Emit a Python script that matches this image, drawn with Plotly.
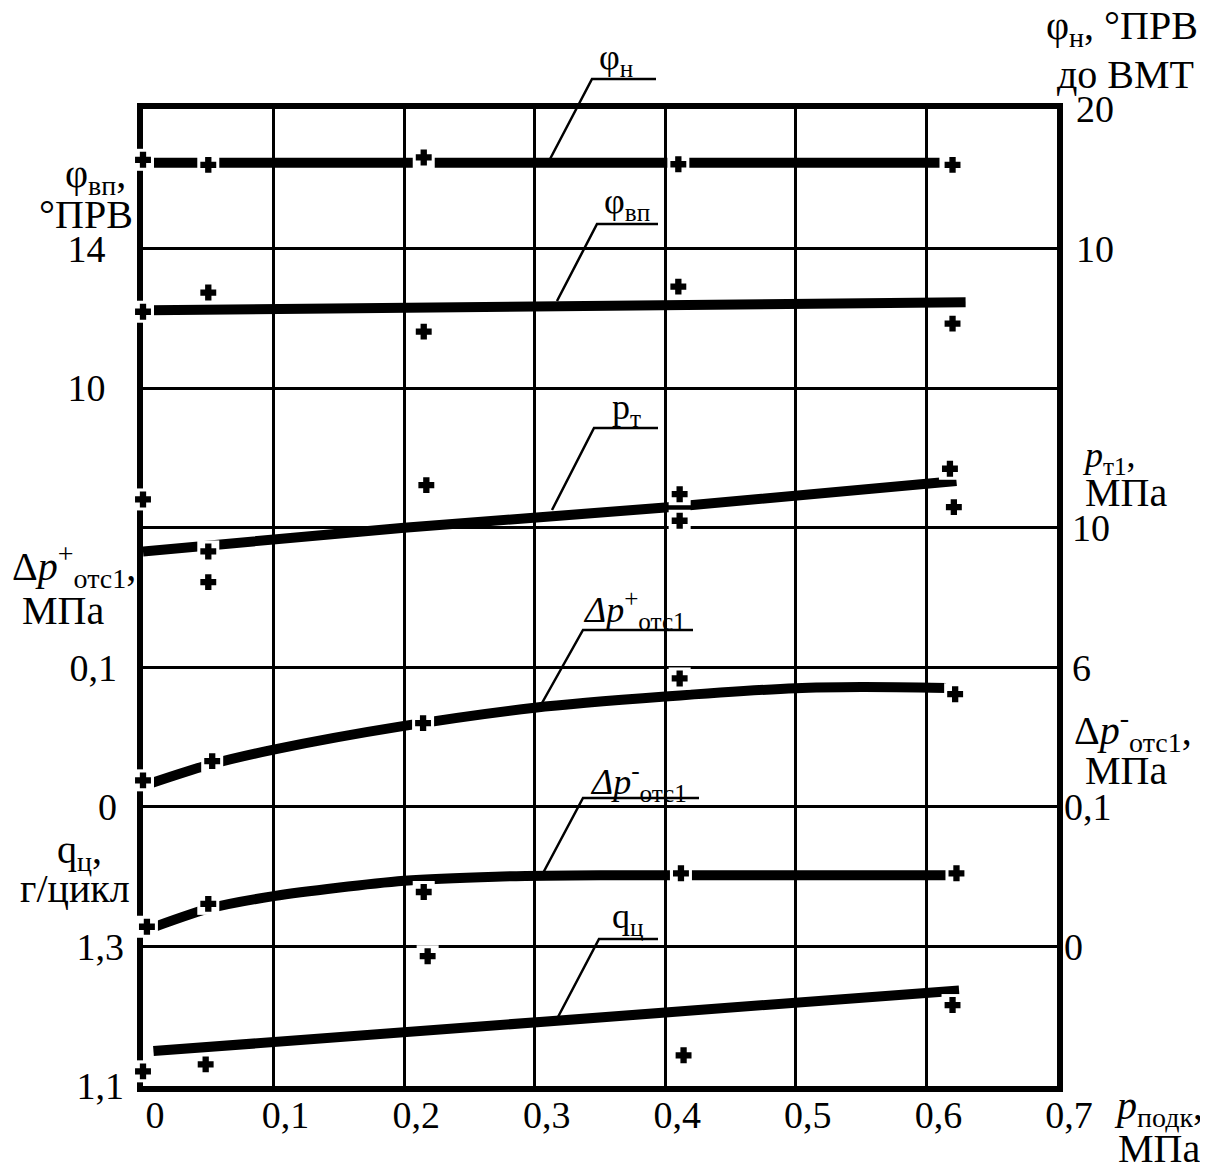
import plotly.graph_objects as go

# ---------------- data ----------------
x_tick_vals = [0, 0.1, 0.2, 0.3, 0.4, 0.5, 0.6, 0.7]
x_tick_text = ["0", "0,1", "0,2", "0,3", "0,4", "0,5", "0,6", "0,7"]

# phi_n (right axis, deg CA before TDC)
phi_n_fit_x = [0.0, 0.61]
phi_n_fit_y = [16.15, 16.15]
phi_n_pts_x = [0.0, 0.05, 0.215, 0.41, 0.62]
phi_n_pts_y = [16.36, 16.0, 16.53, 16.04, 16.0]

# phi_vp (left axis, deg CA)
phi_vp_fit_x = [0.005, 0.63]
phi_vp_fit_y = [12.23, 12.46]
phi_vp_pts_x = [0.0, 0.05, 0.215, 0.41, 0.62]
phi_vp_pts_y = [12.19, 12.74, 11.62, 12.91, 11.85]

# p_t1 (right axis, MPa)
pt_fit_x = [0.0, 0.2, 0.4, 0.623]
pt_fit_y = [9.32, 10.0, 10.58, 11.34]
pt_pts_x = [0.0, 0.05, 0.05, 0.217, 0.411, 0.411, 0.618, 0.621]
pt_pts_y = [10.81, 9.32, 8.44, 11.22, 10.96, 10.2, 11.69, 10.59]

# dp+ (left axis, MPa)
dpp_fit_x = [0.0, 0.05, 0.1, 0.2, 0.3, 0.4, 0.5, 0.55, 0.615]
dpp_fit_y = [0.015, 0.030, 0.041, 0.058, 0.071, 0.079, 0.085, 0.0858, 0.0852]
dpp_pts_x = [0.0, 0.053, 0.2145, 0.411, 0.622]
dpp_pts_y = [0.019, 0.0328, 0.060, 0.092, 0.0807]

# dp- (right axis, MPa)
dpm_fit_x = [0.0, 0.05, 0.1, 0.2, 0.27, 0.35, 0.45, 0.615]
dpm_fit_y = [0.011, 0.027, 0.036, 0.047, 0.050, 0.051, 0.051, 0.051]
dpm_pts_x = [0.003, 0.05, 0.215, 0.412, 0.623]
dpm_pts_y = [0.0141, 0.0305, 0.039, 0.0524, 0.0524]

# q_c (left axis, g/cycle)
qc_fit_x = [0.008, 0.625]
qc_fit_y = [1.150, 1.237]
qc_pts_x = [0.0, 0.048, 0.218, 0.414, 0.62]
qc_pts_y = [1.121, 1.131, 1.286, 1.144, 1.216]

# ---------------- layout geometry ----------------
W, H = 1208, 1167
OFF = 8  # default page body margin
L, R, T, B = 143, 1057, 109, 1086
FONT = "Liberation Serif"


def pp(xpx, ypx):
    return (xpx - L) / (R - L), (B - ypx) / (B - T)


fig = go.Figure()

series = [
    (phi_n_fit_x, phi_n_fit_y, phi_n_pts_x, phi_n_pts_y, "y2", "linear"),
    (phi_vp_fit_x, phi_vp_fit_y, phi_vp_pts_x, phi_vp_pts_y, "y", "linear"),
    (pt_fit_x, pt_fit_y, pt_pts_x, pt_pts_y, "y3", "spline"),
    (dpp_fit_x, dpp_fit_y, dpp_pts_x, dpp_pts_y, "y4", "spline"),
    (dpm_fit_x, dpm_fit_y, dpm_pts_x, dpm_pts_y, "y5", "spline"),
    (qc_fit_x, qc_fit_y, qc_pts_x, qc_pts_y, "y6", "linear"),
]

for fx, fy, px_, py_, ax, shp in series:
    fig.add_trace(go.Scatter(x=fx, y=fy, yaxis=ax, mode="lines",
                             line=dict(color="black", width=10, shape=shp, smoothing=0.8),
                             cliponaxis=False, hoverinfo="skip", showlegend=False))
for fx, fy, px_, py_, ax, shp in series:
    fig.add_trace(go.Scatter(x=px_, y=py_, yaxis=ax, mode="markers",
                             marker=dict(symbol="square", size=22, color="white",
                                         line=dict(width=0)),
                             cliponaxis=False, hoverinfo="skip", showlegend=False))
for fx, fy, px_, py_, ax, shp in series:
    fig.add_trace(go.Scatter(x=px_, y=py_, yaxis=ax, mode="markers",
                             marker=dict(symbol="cross", size=12, color="black",
                                         line=dict(width=1.5, color="black")),
                             cliponaxis=False, hoverinfo="skip", showlegend=False))

tickfont = dict(family=FONT, size=38, color="black")

common_over = dict(overlaying="y", showgrid=False, zeroline=False, showline=False,
                   ticks="", tickfont=tickfont, fixedrange=True)

fig.update_layout(
    width=W - OFF, height=H - OFF,
    margin=dict(l=L - OFF, r=W - R, t=T - OFF, b=H - B, pad=0, autoexpand=False),
    paper_bgcolor="white", plot_bgcolor="white",
    showlegend=False,
    xaxis=dict(range=[0, 0.7], tickvals=x_tick_vals, ticktext=x_tick_text,
               showgrid=True, gridcolor="black", gridwidth=3,
               showline=True, mirror=True, linewidth=6, linecolor="black",
               ticks="", zeroline=False, layer="below traces",
               tickfont=tickfont, ticklabelshift=12, ticklabelstandoff=-10),
    yaxis=dict(range=[-10, 18], tickvals=[-6, -2, 2, 6, 10, 14],
               ticktext=["", "", "", "", "10", "14"],
               showgrid=True, gridcolor="black", gridwidth=3,
               showline=True, mirror=True, linewidth=6, linecolor="black",
               ticks="", zeroline=False, layer="below traces",
               tickfont=tickfont, ticklabelstandoff=24),
    yaxis2=dict(side="right", range=[-50, 20], tickvals=[10, 20],
                ticktext=["10", "20"], ticklabelstandoff=18, **common_over),
    yaxis3=dict(side="right", range=[-6, 22], tickvals=[6, 10],
                ticktext=["6", "10"], ticklabelstandoff=14, **common_over),
    yaxis4=dict(side="left", range=[-0.2, 0.5], tickvals=[0, 0.1],
                ticktext=["0", "0,1"], ticklabelstandoff=25, **common_over),
    yaxis5=dict(side="right", range=[-0.1, 0.6], tickvals=[0, 0.1],
                ticktext=["0", "0,1"], ticklabelstandoff=6, **common_over),
    yaxis6=dict(side="left", range=[1.1, 2.5], tickvals=[1.1, 1.3],
                ticktext=["1,1", "1,3"], ticklabelstandoff=18, **common_over),
)

# leader lines (callouts), in pixel positions converted to paper coords
leaders = [
    [(549, 161), (592, 79), (656, 79)],
    [(557, 301), (597, 224), (658, 224)],
    [(552, 510), (594, 428), (658, 428)],
    [(542, 703), (583, 630), (693, 630)],
    [(542, 875), (583, 798), (699, 798)],
    [(558, 1017), (599, 939), (658, 939)],
]
for pts in leaders:
    path = ""
    for i, (a, b) in enumerate(pts):
        xx, yy = pp(a, b)
        path += ("M" if i == 0 else "L") + f"{xx:.5f},{yy:.5f} "
    fig.add_shape(type="path", path=path, xref="paper", yref="paper",
                  line=dict(color="black", width=2.5), layer="above")


def ann(text, xpx, ypx, xanchor="left", size=40, yanchor="middle"):
    xx, yy = pp(xpx, ypx)
    fig.add_annotation(text=text, x=xx, y=yy, xref="paper", yref="paper",
                       xanchor=xanchor, yanchor=yanchor, showarrow=False,
                       font=dict(family=FONT, size=size, color="black"))


# callout labels
ann("φ<sub>н</sub>", 597, 60, size=36)
ann("φ<sub>вп</sub>", 602, 203, size=36)
ann("p<sub>т</sub>", 610, 410, size=36)
ann("<i>Δp</i><sup>+</sup><sub>отс1</sub>", 581, 610, size=36)
ann("<i>Δp</i><sup>-</sup><sub>отс1</sub>", 588, 782, size=36)
ann("q<sub>ц</sub>", 610, 918, size=36)

# axis titles - left
ann("φ<sub>вп</sub>,", 128, 176, xanchor="right")
ann("°ПРВ", 135, 215, xanchor="right")
ann("Δ<i>p</i><sup>+</sup><sub>отс1</sub>,", 10, 566)
ann("МПа", 20, 610)
ann("q<sub>ц</sub>,", 104, 852, xanchor="right")
ann("г/цикл", 132, 888, xanchor="right")
# axis titles - right
ann("φ<sub>н</sub>, °ПРВ", 1200, 28, xanchor="right")
ann("до ВМТ", 1196, 75, xanchor="right")
ann("<i>p</i><sub>т1</sub>,", 1080, 457, size=36)
ann("МПа", 1083, 492)
ann("Δ<i>p</i><sup>-</sup><sub>отс1</sub>,", 1072, 730)
ann("МПа", 1083, 770)
# x title
ann("<i>p</i><sub>подк</sub>,", 1112, 1108)
ann("МПа", 1202, 1148, xanchor="right")

fig.write_html("out.html")
